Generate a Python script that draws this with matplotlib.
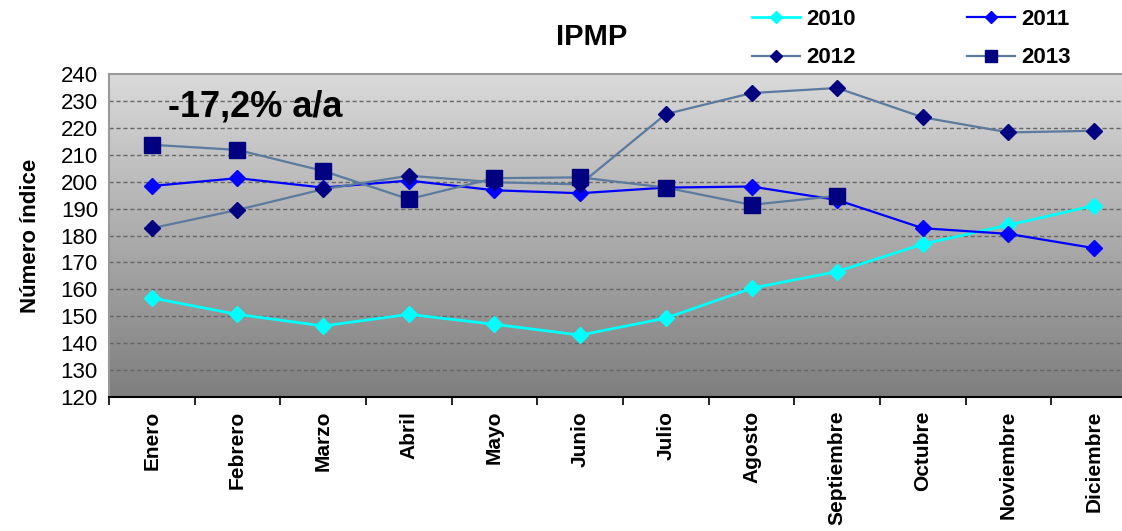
import numpy as np
import matplotlib
matplotlib.use("Agg")
import matplotlib.pyplot as plt
from matplotlib.colors import LinearSegmentedColormap

months = ["Enero", "Febrero", "Marzo", "Abril", "Mayo", "Junio", "Julio",
          "Agosto", "Septiembre", "Octubre", "Noviembre", "Diciembre"]
s2010 = [156.8, 150.7, 146.4, 150.7, 147.0, 143.0, 149.3, 160.4, 166.6, 176.8, 183.9, 191.1]
s2011 = [198.4, 201.3, 197.8, 200.4, 196.8, 195.7, 197.8, 198.2, 193.2, 182.7, 180.6, 175.3]
s2012 = [182.7, 189.5, 197.2, 202.2, 199.8, 199.0, 225.1, 232.9, 234.8, 223.9, 218.3, 218.9]
s2013 = [213.7, 211.8, 204.0, 193.5, 201.3, 201.6, 197.8, 191.4, 194.7]
yticks = list(range(120, 241, 10))

plt.rcParams['font.family'] = ['Liberation Sans', 'DejaVu Sans']

fig = plt.figure(figsize=(11.22, 5.31), dpi=100)
ax = fig.add_axes([109/1122, 1-397/531, (1137-109)/1122, (397-74)/531])

# gradient background (light at top, dark at bottom)
grad = np.linspace(0, 1, 256).reshape(-1, 1)
cmap = LinearSegmentedColormap.from_list("g", ["#dadada", "#7e7e7e"])
ax.imshow(grad, aspect='auto', cmap=cmap, extent=[0, 1, 0, 1], origin='upper',
          transform=ax.transAxes, zorder=0)

x = np.arange(len(months))
l10, = ax.plot(x, s2010, color="#00ffff", lw=2, marker="D", ms=8, mfc="#00ffff", mec="#00ffff", label="2010", zorder=3)
l11, = ax.plot(x, s2011, color="#0000ff", lw=1.6, marker="D", ms=8, mfc="#0000ff", mec="#0000ff", label="2011", zorder=3)
l12, = ax.plot(x, s2012, color="#5a7a9e", lw=1.6, marker="D", ms=8, mfc="#000080", mec="#000080", label="2012", zorder=3)
l13, = ax.plot(x[:len(s2013)], s2013, color="#5a7a9e", lw=1.6, marker="s", ms=11, mfc="#000080", mec="#000080", label="2013", zorder=4)

ax.set_xlim(-0.5, len(months) - 0.5)
ax.set_ylim(120, 240)
ax.set_yticks(yticks)
ax.set_yticklabels([str(v) for v in yticks], fontsize=16)
ax.tick_params(axis='y', length=0, pad=8)
for v in yticks[1:-1]:
    ax.axhline(v, color="#666666", lw=1, ls=(0, (3, 2)), zorder=1)

ax.set_xticks(x)
ax.set_xticklabels(months, rotation=90, fontsize=15, fontweight='bold', va='top')
ax.set_xticks(np.arange(-0.5, len(months), 1), minor=True)
ax.tick_params(axis='x', which='major', length=0, pad=10)
ax.tick_params(axis='x', which='minor', length=6, width=1.2, direction='out', color='black')

for sp in ['top', 'right', 'left']:
    ax.spines[sp].set_color('#999999')
    ax.spines[sp].set_linewidth(1.5)
ax.spines['bottom'].set_color('black')
ax.spines['bottom'].set_linewidth(1.5)

ax.set_ylabel("Número índice", fontsize=16, fontweight='bold', labelpad=14)

ax.text((168-109)/1028, (397-107)/323, "-17,2% a/a", transform=ax.transAxes,
        fontsize=26, fontweight='bold', va='center', ha='left')

fig.text(592/1122, 1-37/531, "IPMP", fontsize=21, fontweight='bold', ha='center', va='center')

fig.legend([l10, l12, l11, l13], ["2010", "2012", "2011", "2013"],
           loc='upper left', bbox_to_anchor=(752/1122, 1-9/531), ncol=2, frameon=False,
           borderpad=0, borderaxespad=0, handlelength=2.15, columnspacing=5.0,
           labelspacing=0.78, markerscale=0.8,
           prop={'weight': 'bold', 'size': 16}, handletextpad=0.3)

fig.savefig("out.png", dpi=100)
